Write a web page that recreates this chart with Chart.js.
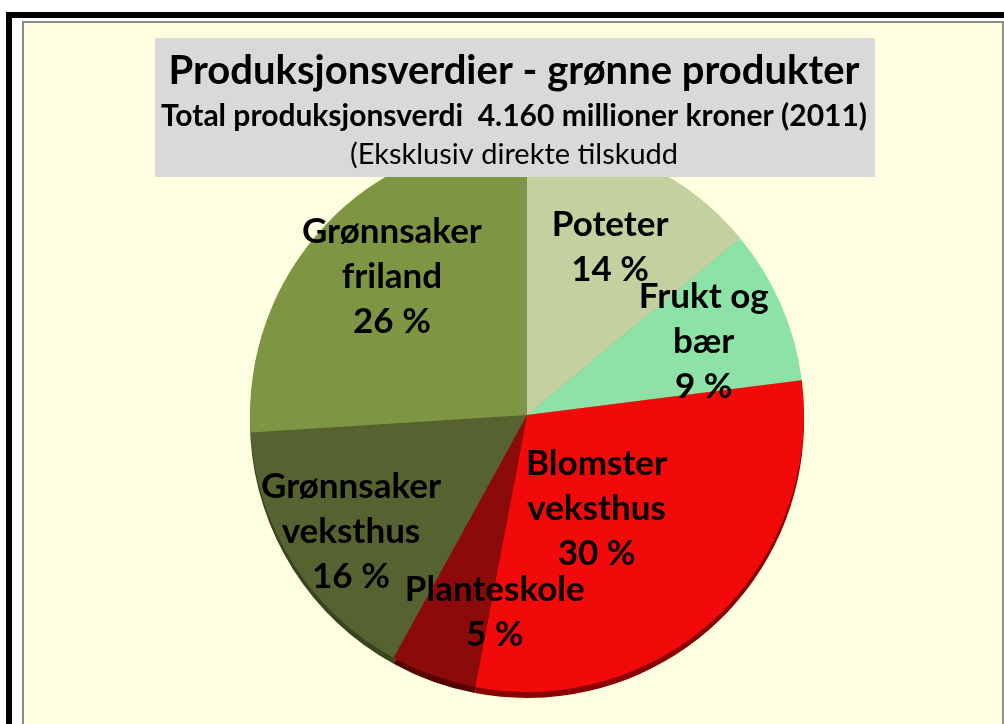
<!DOCTYPE html>
<html>
<head>
<meta charset="utf-8">
<script src="https://cdn.jsdelivr.net/npm/chart.js@4"></script>
<style>
  html, body { margin: 0; padding: 0; background: #fff; width: 1004px; height: 724px; overflow: hidden; }
  #frame { position: absolute; left: 6px; top: 12px; width: 1100px; height: 800px; border-left: 6px solid #000; border-top: 6px solid #000; background: #fff; }
  #panel { position: absolute; left: 22px; top: 21px; width: 978px; height: 760px; border: 2px solid #8c8c8c; background: #fffee0; }
  #chart { position: absolute; left: 0; top: 0; }
</style>
</head>
<body>
<div id="frame"></div>
<div id="panel"></div>
<canvas id="chart" width="1004" height="724"></canvas>
<script>
const categories = ['Poteter', 'Frukt og bær', 'Blomster veksthus', 'Planteskole', 'Grønnsaker veksthus', 'Grønnsaker friland'];
const labelLines = [['Poteter'], ['Frukt og', 'bær'], ['Blomster', 'veksthus'], ['Planteskole'], ['Grønnsaker', 'veksthus'], ['Grønnsaker', 'friland']];
const shares = [14, 9, 30, 5, 16, 26];

const titleLines = [
    'Produksjonsverdier - grønne produkter',
    'Total produksjonsverdi  4.160 millioner kroner (2011)',
    '(Eksklusiv direkte tilskudd'
];

const sliceColors = ['#c3d0a0', '#8de2a8', '#f20a0a', '#8c0a0a', '#56622f', '#7e9543'];
const rimColors = ['#98a57a', '#5fae7b', '#8a0000', '#550000', '#3a4420', '#55682c'];
// where each label sits: fraction of radius, angle nudge in degrees
const labelPlace = [[0.675, 1.2], [0.69, 1], [0.42, 6.5], [0.72, -10.5], [0.763, -1.2], [0.697, 2.4]];

const rimPlugin = {
    id: 'rim',
    beforeDatasetsDraw(chart) {
        const ctx = chart.ctx;
        chart.getDatasetMeta(0).data.forEach((arc, i) => {
            ctx.save();
            ctx.beginPath();
            ctx.moveTo(arc.x, arc.y + 6);
            ctx.arc(arc.x, arc.y + 6, arc.outerRadius, arc.startAngle, arc.endAngle);
            ctx.closePath();
            ctx.fillStyle = rimColors[i];
            ctx.fill();
            ctx.restore();
        });
    }
};

const labelPlugin = {
    id: 'sliceLabels',
    afterDatasetsDraw(chart) {
        const ctx = chart.ctx;
        ctx.save();
        ctx.fillStyle = '#000';
        ctx.font = 'bold 35px Lato';
        ctx.textAlign = 'center';
        ctx.textBaseline = 'middle';
        chart.getDatasetMeta(0).data.forEach((arc, i) => {
            const mid = (arc.startAngle + arc.endAngle) / 2 + labelPlace[i][1] * Math.PI / 180;
            const r = arc.outerRadius * labelPlace[i][0];
            const cx = arc.x + Math.cos(mid) * r;
            const cy = arc.y + Math.sin(mid) * r;
            const lines = labelLines[i].concat([shares[i] + ' %']);
            const lh = 45;
            const top = cy - (lines.length - 1) * lh / 2;
            lines.forEach((t, k) => ctx.fillText(t, cx, top + k * lh));
        });
        ctx.restore();
    }
};

const titlePlugin = {
    id: 'titleBox',
    afterDraw(chart) {
        const ctx = chart.ctx;
        ctx.save();
        ctx.fillStyle = '#d9d9d9';
        ctx.fillRect(155, 38, 720, 139);
        ctx.fillStyle = '#000';
        ctx.textAlign = 'center';
        ctx.textBaseline = 'middle';
        ctx.font = 'bold 40px Lato';
        ctx.fillText(titleLines[0], 514, 71);
        ctx.font = 'bold 30px Lato';
        ctx.fillText(titleLines[1], 514, 116);
        ctx.font = '29px Lato';
        ctx.fillText(titleLines[2], 514, 155);
        ctx.restore();
    }
};

new Chart(document.getElementById('chart'), {
    type: 'pie',
    data: {
        labels: categories,
        datasets: [{
            data: shares,
            backgroundColor: sliceColors,
            borderWidth: 0
        }]
    },
    options: {
        responsive: false,
        animation: false,
        layout: { padding: { left: 250, right: 200, top: 138, bottom: 32 } },
        plugins: {
            legend: { display: false },
            tooltip: { enabled: false }
        }
    },
    plugins: [rimPlugin, labelPlugin, titlePlugin]
});
</script>
</body>
</html>
